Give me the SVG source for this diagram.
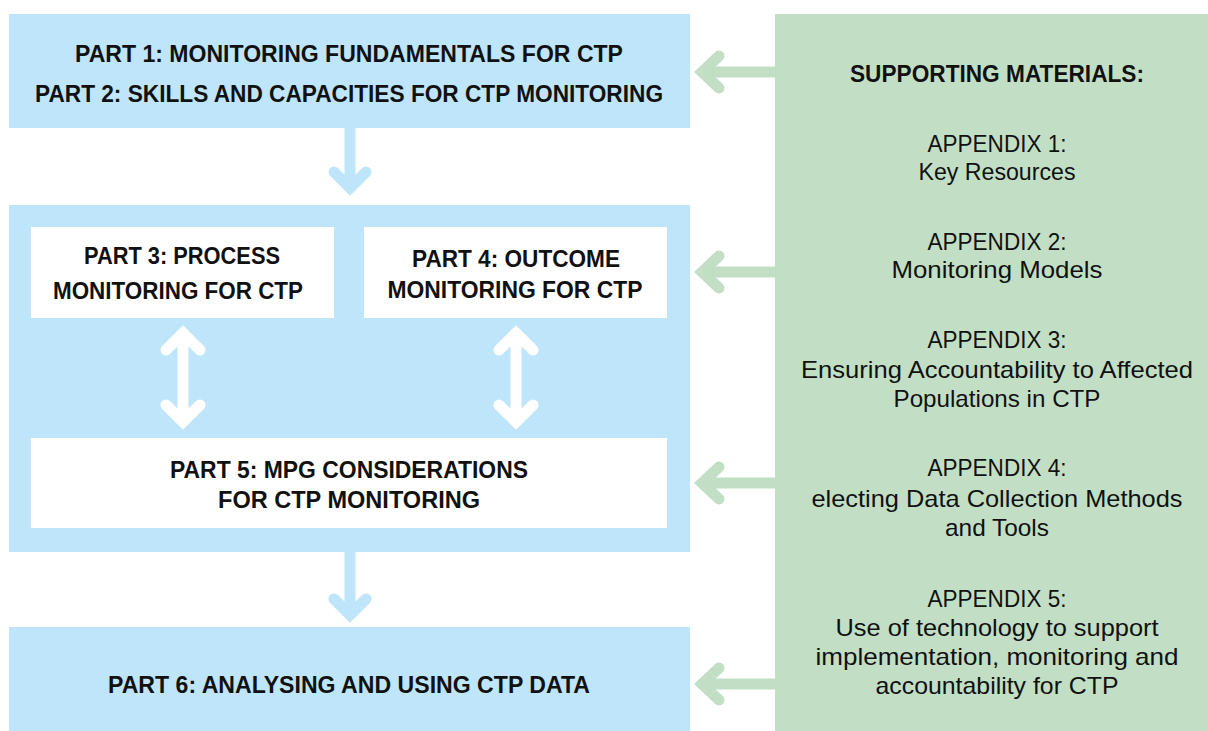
<svg xmlns="http://www.w3.org/2000/svg" width="1208" height="731" viewBox="0 0 1208 731">
<style>
.blue{fill:#bee5f9}
.green{fill:#c2dfc6}
.white{fill:#ffffff}
.b{font-family:"Liberation Sans",Arial,sans-serif;font-weight:bold;font-size:24px;fill:#111;text-anchor:middle}
.r{font-family:"Liberation Sans",Arial,sans-serif;font-size:24px;fill:#111;text-anchor:middle}
.ga{fill:none;stroke:#c2dfc6;stroke-width:11;stroke-linecap:round;stroke-linejoin:miter}
.ba{fill:none;stroke:#bee5f9;stroke-width:11;stroke-linecap:round;stroke-linejoin:miter}
.wa{fill:none;stroke:#ffffff;stroke-width:11;stroke-linecap:round;stroke-linejoin:miter}
</style>
<rect width="1208" height="731" fill="#ffffff"/>
<g id="node-part12">
<rect class="blue" x="9" y="14" width="681" height="114"/>
<text class="b" x="349" y="62" textLength="548" lengthAdjust="spacingAndGlyphs" font-size="25">PART 1: MONITORING FUNDAMENTALS FOR CTP</text>
<text class="b" x="349" y="102" textLength="628" lengthAdjust="spacingAndGlyphs" font-size="25">PART 2: SKILLS AND CAPACITIES FOR CTP MONITORING</text>
</g>
<g id="node-middle">
<rect class="blue" x="9" y="205" width="681" height="347"/>
</g>
<g id="node-part3">
<rect class="white" x="31" y="227" width="303" height="91"/>
<text class="b" x="182" y="264" textLength="196" lengthAdjust="spacingAndGlyphs">PART 3: PROCESS</text>
<text class="b" x="178" y="299" textLength="250" lengthAdjust="spacingAndGlyphs">MONITORING FOR CTP</text>
</g>
<g id="node-part4">
<rect class="white" x="364" y="227" width="303" height="91"/>
<text class="b" x="516" y="267" textLength="208" lengthAdjust="spacingAndGlyphs">PART 4: OUTCOME</text>
<text class="b" x="515" y="298" textLength="255" lengthAdjust="spacingAndGlyphs">MONITORING FOR CTP</text>
</g>
<g id="node-part5">
<rect class="white" x="31" y="438" width="636" height="90"/>
<text class="b" x="349" y="478" textLength="358" lengthAdjust="spacingAndGlyphs">PART 5: MPG CONSIDERATIONS</text>
<text class="b" x="349" y="508" textLength="262" lengthAdjust="spacingAndGlyphs">FOR CTP MONITORING</text>
</g>
<g id="node-part6">
<rect class="blue" x="9" y="627" width="681" height="104"/>
<text class="b" x="349" y="693" textLength="482" lengthAdjust="spacingAndGlyphs">PART 6: ANALYSING AND USING CTP DATA</text>
</g>
<g id="node-supporting">
<rect class="green" x="775" y="14" width="433" height="717"/>
<text class="b" x="997" y="82" textLength="294" lengthAdjust="spacingAndGlyphs">SUPPORTING MATERIALS:</text>
<text class="r" x="997" y="152" textLength="139" lengthAdjust="spacingAndGlyphs">APPENDIX 1:</text>
<text class="r" x="997" y="180" textLength="157" lengthAdjust="spacingAndGlyphs">Key Resources</text>
<text class="r" x="997" y="250" textLength="139" lengthAdjust="spacingAndGlyphs">APPENDIX 2:</text>
<text class="r" x="997" y="278" textLength="211" lengthAdjust="spacingAndGlyphs">Monitoring Models</text>
<text class="r" x="997" y="348" textLength="139" lengthAdjust="spacingAndGlyphs">APPENDIX 3:</text>
<text class="r" x="997" y="378" textLength="392" lengthAdjust="spacingAndGlyphs">Ensuring Accountability to Affected</text>
<text class="r" x="997" y="407" textLength="207" lengthAdjust="spacingAndGlyphs">Populations in CTP</text>
<text class="r" x="997" y="476" textLength="139" lengthAdjust="spacingAndGlyphs">APPENDIX 4:</text>
<text class="r" x="997" y="507" textLength="371" lengthAdjust="spacingAndGlyphs">electing Data Collection Methods</text>
<text class="r" x="997" y="536" textLength="104" lengthAdjust="spacingAndGlyphs">and Tools</text>
<text class="r" x="997" y="607" textLength="139" lengthAdjust="spacingAndGlyphs">APPENDIX 5:</text>
<text class="r" x="997" y="636" textLength="323" lengthAdjust="spacingAndGlyphs">Use of technology to support</text>
<text class="r" x="997" y="665" textLength="363" lengthAdjust="spacingAndGlyphs">implementation, monitoring and</text>
<text class="r" x="997" y="694" textLength="243" lengthAdjust="spacingAndGlyphs">accountability for CTP</text>
</g>
<g id="connectors">
<path class="ga" d="M775 72H702M719 56L702 72L719 88"/>
<path class="ga" d="M775 272H702M719 256L702 272L719 288"/>
<path class="ga" d="M775 483H702M719 467L702 483L719 499"/>
<path class="ga" d="M775 684H702M719 668L702 684L719 700"/>
<path class="ba" d="M350 128V188M334 172L350 188L366 172"/>
<path class="ba" d="M350 552V615M334 599L350 615L366 599"/>
<path class="wa" d="M183 333V422M166 350L183 333L200 350M166 405L183 422L200 405"/>
<path class="wa" d="M516 333V422M499 350L516 333L533 350M499 405L516 422L533 405"/>
</g>
</svg>
